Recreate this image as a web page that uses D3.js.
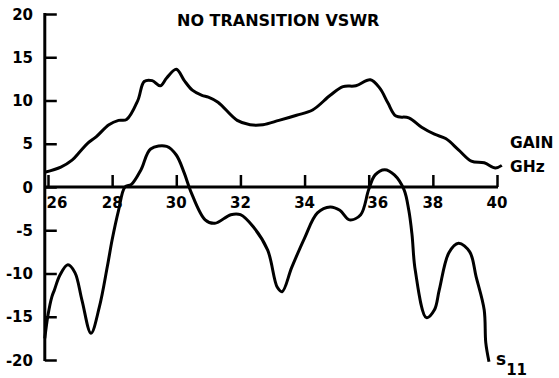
<!DOCTYPE html>
<html>
<head>
<meta charset="utf-8">
<script src="https://cdn.jsdelivr.net/npm/d3@7"></script>
<style>
  body { margin: 0; background: #fff; }
  svg text { font-family: "DejaVu Sans", sans-serif; font-weight: bold; fill: #000; }
</style>
</head>
<body>
<div id="chart"></div>
<script>
// values
const xTicks = [26, 28, 30, 32, 34, 36, 38, 40];
const yTicks = [20, 15, 10, 5, 0, -5, -10, -15, -20];

const gainGHz = [25.9, 26.4, 26.75, 27.0, 27.25, 27.5, 27.9, 28.2, 28.45, 28.8, 29.0, 29.25, 29.5, 29.7, 30.0,
  30.25, 30.5, 30.8, 31.0, 31.3, 31.9, 32.3, 32.7, 33.2, 33.75, 34.25, 34.8, 35.2, 35.6, 36.05, 36.35,
  36.6, 36.85, 37.25, 37.65, 38.05, 38.4, 38.8, 39.2, 39.6, 39.95, 40.15];
const gainDb = [1.7, 2.3, 3.1, 4.1, 5.1, 5.8, 7.2, 7.7, 7.8, 10.0, 12.2, 12.3, 11.7, 12.6, 13.6,
  12.3, 11.2, 10.6, 10.4, 9.8, 7.7, 7.2, 7.2, 7.7, 8.3, 8.9, 10.6, 11.6, 11.7, 12.4, 11.4,
  9.7, 8.2, 8.0, 6.9, 6.1, 5.6, 4.3, 3.0, 2.8, 2.2, 2.5];

const s11GHz = [25.9, 26.0, 26.12, 26.2, 26.37, 26.62, 26.84, 27.06, 27.34, 27.6, 27.85, 28.0, 28.2, 28.4,
  28.6, 28.9, 29.2, 29.7, 30.0, 30.25, 30.45, 30.9, 31.2, 31.7, 32.0, 32.4, 32.85, 33.15, 33.3, 33.6,
  34.0, 34.4, 34.8, 35.1, 35.4, 35.75, 36.0, 36.2, 36.5, 36.8, 37.1, 37.25, 37.35, 37.45, 37.8, 38.05,
  38.2, 38.5, 38.8, 39.15, 39.35, 39.6, 39.65, 39.75];
const s11Db = [-17.5, -14.8, -12.7, -11.9, -10.2, -9.0, -9.9, -13.1, -16.9, -13.9, -9.2, -6.1, -2.7, 0,
  0.3, 2.0, 4.4, 4.7, 3.7, 1.6, -0.5, -3.8, -4.2, -3.2, -3.2, -4.6, -7.3, -11.6, -12.1, -9.3,
  -5.9, -3.0, -2.3, -2.7, -3.8, -3.2, -0.3, 1.4, 2.0, 1.4, -0.3, -2.7, -5.5, -9.6, -15.1, -14.2,
  -11.9, -7.6, -6.5, -7.5, -10.4, -14.2, -18, -20.2];

const width = 559;
const height = 378;

const svg = d3.select("#chart")
  .append("svg")
  .attr("width", width)
  .attr("height", height);

const x = d3.scaleLinear().domain([26, 40]).range([48, 497]);
const y = d3.scaleLinear().domain([-20, 20]).range([360, 14]);

// y axis (ticks point right)
const yAxis = svg.append("g")
  .attr("transform", `translate(${x(25.9)},0)`)
  .call(d3.axisRight(y).tickValues(yTicks).tickSize(12).tickFormat(""));
yAxis.select(".domain").remove();
yAxis.selectAll("line").attr("stroke", "#000").attr("stroke-width", 2.5);

svg.append("line")
  .attr("x1", x(25.9)).attr("x2", x(25.9))
  .attr("y1", y(20) - 1).attr("y2", y(-20) + 1)
  .attr("stroke", "#000").attr("stroke-width", 3);

svg.selectAll(".ylab")
  .data(yTicks)
  .join("text")
  .attr("class", "ylab")
  .attr("x", 33)
  .attr("y", d => y(d) + 5.5)
  .attr("text-anchor", "end")
  .attr("font-size", 15)
  .text(d => d);

// x axis at 0 dB (ticks point up)
const xAxis = svg.append("g")
  .attr("transform", `translate(0,${y(0)})`)
  .call(d3.axisTop(x).tickValues(xTicks).tickSize(12).tickFormat(""));
xAxis.select(".domain").remove();
xAxis.selectAll("line").attr("stroke", "#000").attr("stroke-width", 2.5);

svg.append("line")
  .attr("x1", x(25.9)).attr("x2", x(40) + 1)
  .attr("y1", y(0)).attr("y2", y(0))
  .attr("stroke", "#000").attr("stroke-width", 3);

svg.selectAll(".xlab")
  .data(xTicks)
  .join("text")
  .attr("class", "xlab")
  .attr("x", d => x(d) + (d === 26 || d === 36 ? 9 : 0))
  .attr("y", y(0) + 21)
  .attr("text-anchor", "middle")
  .attr("font-size", 15)
  .text(d => d);

const line = d3.line()
  .x(d => x(d[0]))
  .y(d => y(d[1]))
  .curve(d3.curveCatmullRom.alpha(0.5));

svg.append("path")
  .datum(d3.zip(gainGHz, gainDb))
  .attr("d", line)
  .attr("fill", "none")
  .attr("stroke", "#000")
  .attr("stroke-width", 3)
  .attr("stroke-linejoin", "round");

svg.append("path")
  .datum(d3.zip(s11GHz, s11Db))
  .attr("d", line)
  .attr("fill", "none")
  .attr("stroke", "#000")
  .attr("stroke-width", 3)
  .attr("stroke-linejoin", "round");

// labels
svg.append("text")
  .attr("x", 177).attr("y", 26)
  .attr("font-size", 16)
  .text("NO TRANSITION VSWR");

svg.append("text")
  .attr("x", 510).attr("y", 148)
  .attr("font-size", 15.5)
  .text("GAIN");

svg.append("text")
  .attr("x", 510).attr("y", 172)
  .attr("font-size", 15.5)
  .text("GHz");

const s11 = svg.append("text")
  .attr("x", 496).attr("y", 365)
  .attr("font-size", 17);
s11.append("tspan").text("s");
s11.append("tspan").attr("font-size", 15).attr("dy", 10).text("11");
</script>
</body>
</html>
